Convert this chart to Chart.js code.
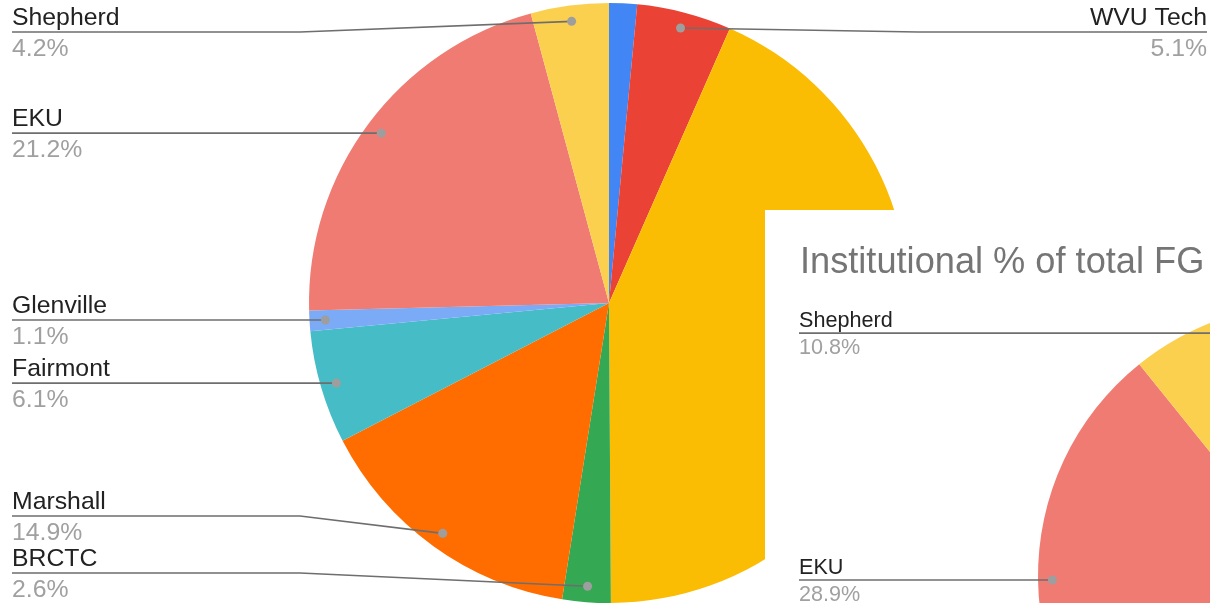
<!DOCTYPE html>
<html>
<head>
<meta charset="utf-8">
<script src="https://cdn.jsdelivr.net/npm/chart.js@4.4.1/dist/chart.umd.min.js"></script>
<style>
  html, body { margin: 0; padding: 0; background: #fff; overflow: hidden; }
  #wrap { position: relative; width: 1210px; height: 603px; overflow: hidden; }
  #main { position: absolute; left: 0; top: 0; }
  #panel { position: absolute; left: 765px; top: 210px; width: 445px; height: 393px; background: #fff; overflow: hidden; }
  #second { position: absolute; left: 0; top: 0; }
</style>
</head>
<body>
<div id="wrap">
  <canvas id="main" width="1210" height="603"></canvas>
  <div id="panel"><canvas id="second" width="900" height="900"></canvas></div>
</div>
<script>
// slice order clockwise from 12 o'clock; names of slice 1 and 3 are not visible in the picture
const schools = ['Bluefield', 'WVU Tech', 'WVU', 'BRCTC', 'Marshall', 'Fairmont', 'Glenville', 'EKU', 'Shepherd'];
const share1 = [1.5, 5.1, 43.3, 2.6, 14.9, 6.1, 1.1, 21.2, 4.2];
// second chart: only EKU and Shepherd show, the rest are rough guesses
const share2 = [2.0, 4.0, 30.0, 3.0, 12.0, 6.0, 3.3, 28.9, 10.8];
const colors = ['#4285F4', '#EA4335', '#FBBC04', '#34A853', '#FF6D01', '#46BDC6', '#7BAAF7', '#F07B72', '#FCD04F'];
const hidden1 = ['Bluefield'];
const title2 = 'Institutional % of total FG';

const FONT = '"Liberation Sans", Arial, sans-serif';

// google-sheets style labels: name over a leader line, percent under it
const leaderLabels = {
    id: 'leaderLabels',
    afterDraw(chart, args, opts) {
        const ctx = chart.ctx;
        const meta = chart.getDatasetMeta(0);
        const data = chart.data.datasets[0].data;
        const total = data.reduce((a, b) => a + b, 0);
        let items = [];
        meta.data.forEach((arc, i) => {
            const name = chart.data.labels[i];
            if (opts.hide.includes(name)) return;
            const p = arc.getProps(['x', 'y', 'startAngle', 'endAngle', 'outerRadius'], true);
            const mid = (p.startAngle + p.endAngle) / 2;
            const r = p.outerRadius * 0.947;
            items.push({
                name: name,
                pct: (data[i] / total * 100).toFixed(1) + '%',
                dx: p.x + Math.cos(mid) * r,
                dy: p.y + Math.sin(mid) * r,
                left: Math.cos(mid) < 0,
                cx: p.x,
                R: p.outerRadius
            });
        });

        ['left', 'right'].forEach(side => {
            const list = items.filter(it => (side == 'left') == it.left).sort((a, b) => a.dy - b.dy);
            list.forEach(it => it.ly = Math.min(Math.max(it.dy, opts.top), opts.bottom));
            for (let k = list.length - 2; k >= 0; k--) list[k].ly = Math.min(list[k].ly, list[k + 1].ly - opts.gap);
            for (let k = 1; k < list.length; k++) list[k].ly = Math.max(list[k].ly, list[k - 1].ly + opts.gap);
        });

        ctx.save();
        items.forEach(it => {
            const bx = it.left ? it.cx - it.R - 9 : it.cx + it.R + 9;
            const ex = it.left ? opts.xl : chart.width - opts.xr;
            ctx.lineWidth = 1.6;
            ctx.strokeStyle = '#6e6e6e';
            ctx.beginPath();
            ctx.moveTo(ex, it.ly);
            ctx.lineTo(bx, it.ly);
            ctx.lineTo(it.dx, it.dy);
            ctx.stroke();
            ctx.beginPath();
            ctx.arc(it.dx, it.dy, 4.5, 0, 2 * Math.PI);
            ctx.fillStyle = '#9e9e9e';
            ctx.fill();

            ctx.textAlign = it.left ? 'left' : 'right';
            ctx.textBaseline = 'alphabetic';
            ctx.font = opts.size + 'px ' + FONT;
            ctx.fillStyle = '#222222';
            ctx.fillText(it.name, ex, it.ly - opts.size * 0.3);
            ctx.fillStyle = '#a0a0a0';
            ctx.fillText(it.pct, ex, it.ly + opts.size * 0.95);
        });

        if (opts.title) {
            ctx.textAlign = 'left';
            ctx.font = opts.titleSize + 'px ' + FONT;
            ctx.fillStyle = '#757575';
            ctx.fillText(opts.title, opts.titleX, opts.titleY);
        }
        ctx.restore();
    }
};

function makePie(id, values, pad, labelOpts) {
    return new Chart(document.getElementById(id), {
        type: 'pie',
        data: {
            labels: schools,
            datasets: [{
                data: values,
                backgroundColor: colors,
                borderWidth: 0,
                hoverOffset: 0
            }]
        },
        options: {
            responsive: false,
            animation: false,
            events: [],
            layout: { padding: pad },
            plugins: {
                legend: { display: false },
                tooltip: { enabled: false },
                leaderLabels: labelOpts
            }
        },
        plugins: [leaderLabels]
    });
}

makePie('main', share1,
    { left: 309, right: 301, top: 3, bottom: 0 },
    { hide: hidden1, xl: 12, xr: 3, top: 32, bottom: 573, gap: 57, size: 24.8 });

makePie('second', share2,
    { left: 273, right: 83, top: 94, bottom: 262 },
    { hide: [], xl: 34, xr: 3, top: 100, bottom: 860, gap: 51, size: 21.6,
      title: title2, titleSize: 36.2, titleX: 35, titleY: 63 });
</script>
</body>
</html>
